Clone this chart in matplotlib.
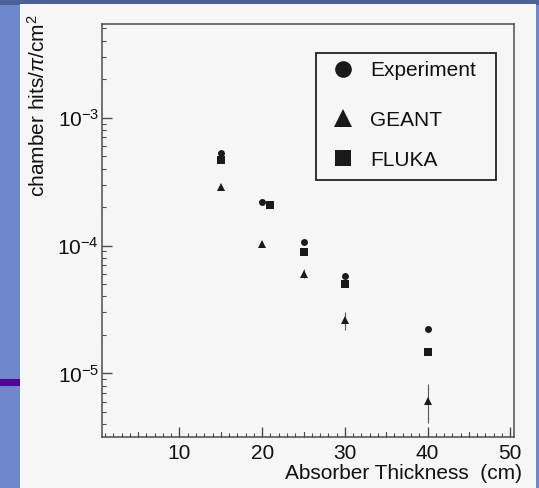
import matplotlib
matplotlib.use("Agg")
import matplotlib.pyplot as plt
from matplotlib.patches import Rectangle
from matplotlib.ticker import MultipleLocator, LogLocator, NullFormatter, FixedLocator
import numpy as np

plt.rcParams['font.family'] = ['Liberation Sans', 'DejaVu Sans']
plt.rcParams['mathtext.fontset'] = 'custom'
plt.rcParams['mathtext.rm'] = 'Liberation Sans'
plt.rcParams['mathtext.it'] = 'Liberation Sans:italic'
plt.rcParams['mathtext.bf'] = 'Liberation Sans:bold'

# Data
exp_x = [15, 20, 25, 30, 40]
exp_y = [5.3e-4, 2.2e-4, 1.07e-4, 5.8e-5, 2.24e-5]

geant_x = [15, 20, 25, 30, 40]
geant_y = [2.88e-4, 1.03e-4, 6.0e-5, 2.6e-5, 6.1e-6]
geant_lo = [2.8e-4, 0.98e-4, 5.6e-5, 2.2e-5, 4.1e-6]
geant_hi = [2.96e-4, 1.08e-4, 6.6e-5, 3.0e-5, 8.2e-6]

fluka_x = [15, 21, 25, 30, 40]
fluka_y = [4.7e-4, 2.08e-4, 8.9e-5, 5.0e-5, 1.46e-5]

x_ticks = [10, 20, 30, 40, 50]
y_ticks = [1e-5, 1e-4, 1e-3]
y_ticklabels = [r'$10^{-5}$', r'$10^{-4}$', r'$10^{-3}$']
labels = ['Experiment', 'GEANT', 'FLUKA']
legend_markers = ['o', '^', 's']

W, H = 539, 488
fig = plt.figure(figsize=(W / 100, H / 100), dpi=100)
fig.patch.set_facecolor((0.43, 0.53, 0.80))

# slide decorations
fig.add_artist(Rectangle((0, 1 - 5 / H), 1, 5 / H, transform=fig.transFigure,
                         facecolor=(0.30, 0.38, 0.60), edgecolor='none', zorder=0))
fig.add_artist(Rectangle((0, 1 - 386 / H), 20 / W, 7 / H, transform=fig.transFigure,
                         facecolor=(0.33, 0.0, 0.58), edgecolor='none', zorder=0))
# scanned page
fig.add_artist(Rectangle((20 / W, 0), (536 - 20) / W, 1 - 4 / H, transform=fig.transFigure,
                         facecolor=(0.965, 0.965, 0.965), edgecolor='none', zorder=0))

L, R, T, B = 101.7, 514.0, 24.0, 436.7
ax = fig.add_axes([L / W, 1 - B / H, (R - L) / W, (B - T) / H])
ax.set_facecolor((0.965, 0.965, 0.965))
ax.set_yscale('log')
ax.set_xlim(0.6, 50.45)
ax.set_ylim(3.2e-6, 5.4e-3)

dark = (0.10, 0.10, 0.10)
ax.errorbar(geant_x, geant_y,
            yerr=[np.array(geant_y) - np.array(geant_lo), np.array(geant_hi) - np.array(geant_y)],
            fmt='none', ecolor=(0.35, 0.35, 0.35), elinewidth=0.8, capsize=0, zorder=2)
ax.plot(exp_x, exp_y, 'o', color=dark, markersize=5, markeredgewidth=0, zorder=3)
ax.plot(geant_x, geant_y, '^', color=dark, markersize=5.5, markeredgewidth=0, zorder=3)
ax.plot(fluka_x, fluka_y, 's', color=dark, markersize=6.2, markeredgewidth=0, zorder=3)

for s in ax.spines.values():
    s.set_color((0.3, 0.3, 0.3))
    s.set_linewidth(1.1)

ax.xaxis.set_major_locator(FixedLocator(x_ticks))
ax.xaxis.set_minor_locator(MultipleLocator(1))
ax.set_xticklabels([str(t) for t in x_ticks])
ax.yaxis.set_major_locator(FixedLocator(y_ticks))
ax.set_yticklabels(y_ticklabels)
ax.yaxis.set_minor_locator(LogLocator(base=10, subs=np.arange(2, 10)))
ax.yaxis.set_minor_formatter(NullFormatter())
ax.tick_params(axis='both', which='both', direction='in', color=(0.3, 0.3, 0.3),
               top=False, right=False, labelcolor='#111111')
ax.tick_params(axis='x', which='major', length=7, width=1, labelsize=15, pad=5)
ax.tick_params(axis='y', which='major', length=7, width=1, labelsize=15, pad=2)
ax.tick_params(axis='both', which='minor', length=3, width=0.8)
# medium ticks at 5, 15, ...
for xv in [5, 15, 25, 35, 45]:
    ax.plot([xv, xv], [0, 0.012], transform=ax.get_xaxis_transform(),
            color=(0.3, 0.3, 0.3), lw=0.8, clip_on=False, zorder=1)

ax.set_xlabel('Absorber Thickness  (cm)', fontsize=15, color='#111111')
ax.xaxis.set_label_coords(1.019, -0.066)
ax.xaxis.label.set_horizontalalignment('right')
ax.set_ylabel(r'chamber hits/$\pi$/cm$^2$', fontsize=15, color='#111111')
ax.yaxis.set_label_coords(-0.181, 1.023)
ax.yaxis.label.set_verticalalignment('top')
ax.yaxis.label.set_horizontalalignment('right')

# legend box (drawn manually to match the reference layout)
ax.add_patch(Rectangle((0.5188, 0.622), 0.4385, 0.3077, transform=ax.transAxes,
                       facecolor=(0.965, 0.965, 0.965), edgecolor='#222222',
                       linewidth=1.3, zorder=4))
leg_y = [0.891, 0.7722, 0.6753]
leg_ms = [12, 12.5, 11]
for lab, mk, yy, ms in zip(labels, legend_markers, leg_y, leg_ms):
    ax.plot([0.5852], [yy], marker=mk, ls='none', color=dark, markersize=ms,
            markeredgewidth=0, transform=ax.transAxes, zorder=5, clip_on=False)
    ax.text(0.6503, yy, lab, transform=ax.transAxes, fontsize=15, color='#111111',
            va='center_baseline', ha='left', zorder=5)

fig.savefig('out.png', dpi=100, facecolor=fig.get_facecolor())
